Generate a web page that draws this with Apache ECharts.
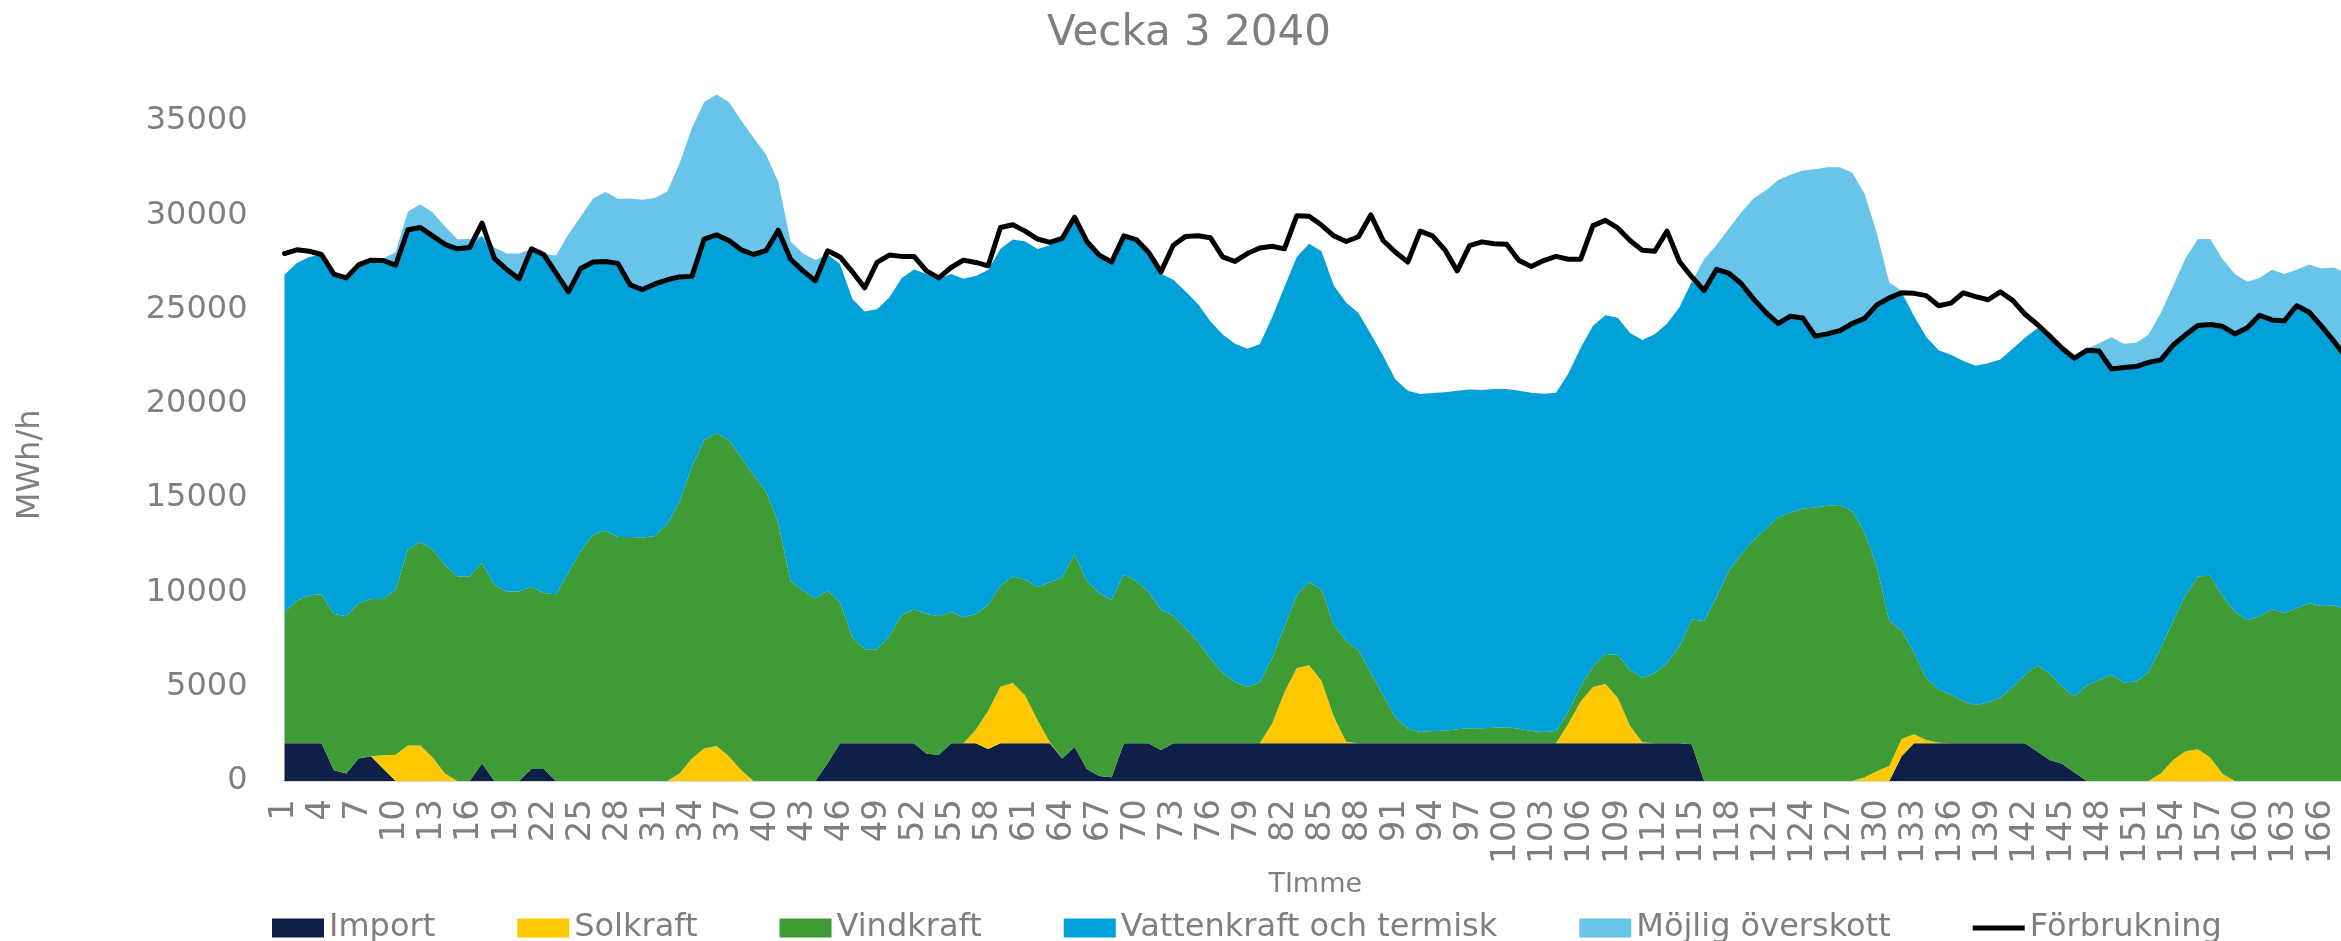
<!DOCTYPE html>
<html>
<head>
<meta charset="utf-8">
<title>Vecka 3 2040</title>
<script src="https://cdn.jsdelivr.net/npm/echarts@6.0.0/dist/echarts.min.js"></script>
<style>
    html, body { margin: 0; padding: 0; background: #fff; }
    #chart { width: 2341px; height: 941px; }
</style>
</head>
<body>
<div id="chart"></div>
<script>
    // timme 1..168 (vecka 3)
    var hours = [];
    for (let h = 1; h <= 168; h++) {
        hours.push(String(h));
    }

    // MWh/h per timme
    var importData = [
        2000,2000,2000,2000,570,400,1190,1310,650,0,0,0,0,0,0,0,940,0,0,0,640,640,0,0,
        0,0,0,0,0,0,0,0,0,0,0,0,0,0,0,0,0,0,0,0,940,2000,2000,2000,
        2000,2000,2000,2000,1440,1390,2000,2000,2000,1700,2000,2000,2000,2000,2000,1190,1800,640,270,200,2000,2000,2000,1650,
        2000,2000,2000,2000,2000,2000,2000,2000,2000,2000,2000,2000,2000,2000,2000,2000,2000,2000,2000,2000,2000,2000,2000,2000,
        2000,2000,2000,2000,2000,2000,2000,2000,2000,2000,2000,2000,2000,2000,2000,2000,2000,2000,1950,0,0,0,0,0,
        0,0,0,0,0,0,0,0,0,0,0,1310,2000,2000,2000,2000,2000,2000,2000,2000,2000,2000,1560,1110,
        910,450,0,0,0,0,0,0,0,0,0,0,0,0,0,0,0,0,0,0,0,0,0,0
    ];
    var solData = [
        0,0,0,0,0,0,0,0,710,1390,1880,1880,1240,400,0,0,0,0,0,0,0,0,0,0,
        0,0,0,0,0,0,0,0,400,1190,1730,1860,1310,570,0,0,0,0,0,0,0,0,0,0,
        0,0,0,0,0,0,0,0,720,2010,3000,3200,2530,1220,50,0,0,0,0,0,0,0,0,0,
        0,0,0,0,0,0,0,0,1040,2700,3990,4140,3320,1420,80,0,0,0,0,0,0,0,0,0,
        0,0,0,0,0,0,0,0,1040,2210,2980,3150,2410,920,50,0,0,0,0,0,0,0,0,0,
        0,0,0,0,0,0,0,0,200,520,790,920,480,180,30,0,0,0,0,0,0,0,0,0,
        0,0,0,0,0,0,0,0,400,1110,1580,1680,1240,370,0,0,0,0,0,0,0,0,0,0
    ];
    var vindData = [
        6980,7550,7850,7900,8290,8340,8240,8340,8290,8760,10400,10790,11040,11060,10840,10840,10640,10400,10050,10050,9660,9330,9900,11050,
        12200,13070,13270,12940,12940,12900,12990,13610,14400,15470,16360,16580,16760,16580,16210,15350,13690,10590,10100,9680,9160,7480,5620,4990,
        4980,5670,6810,7110,7430,7350,6960,6690,6140,5620,5350,5640,6160,7050,8490,9600,10230,9950,9680,9400,8960,8590,8020,7430,
        6760,6090,5400,4490,3740,3250,2980,3220,3470,3470,3860,4410,4830,4880,5350,4930,3740,2530,1370,770,600,650,670,750,
        800,800,820,850,770,650,600,650,620,820,1090,1580,2280,2970,3420,3720,4260,5130,6610,8490,9730,11140,12030,12750,
        13370,13980,14230,14450,14500,14600,14630,14310,12990,10820,7700,5770,4330,3270,2820,2580,2230,2030,2160,2410,2980,3640,4580,4580,
        4090,4030,5070,5350,5640,5220,5270,5770,6680,7380,8270,9160,9650,9430,8980,8540,8740,9110,8910,9160,9430,9280,9310,9110
    ];
    var vattenData = [
        17870,17920,17940,18020,18020,17940,17940,17970,17940,17200,16950,16680,16630,17000,17370,17450,17320,17320,17080,16580,17920,17940,17030,14890,
        14970,14450,14280,14500,13370,13170,13370,12970,11930,10100,10640,10520,10590,11010,11710,12770,15520,17080,16950,16860,17820,17940,17940,17910,
        18040,17970,17870,18020,18020,17890,17920,17940,17920,17770,17870,17870,17920,17940,17870,17940,17750,18020,17940,17920,17940,18120,18020,17820,
        17820,17870,17900,17890,17940,17940,17940,17940,18070,18020,17940,17940,17940,17970,17940,17890,17970,18020,17920,17920,17920,17920,17940,17940,
        17960,17940,17970,17940,17920,17940,17940,17940,17940,17940,18070,17970,17870,17870,17920,17970,17990,17990,17920,17520,17400,15790,14360,12820,
        11490,10270,10420,10100,9080,9110,9260,9950,11340,13910,17130,17900,17850,18090,17990,18020,18040,17990,17990,17940,17940,17870,17870,17890,
        17950,17940,17770,17450,16210,16710,16710,16430,15250,14630,13810,13320,13320,14310,14730,15490,15960,15350,15490,16040,15440,14850,14030,13370
    ];
    var overskottData = [
        0,0,0,0,0,0,0,0,120,690,970,1240,1240,940,520,450,0,570,840,1340,0,50,940,3060,
        2770,3370,3690,3440,4580,4750,4550,4680,6010,7850,7280,7450,7350,6860,6190,5120,2550,940,920,1090,0,0,0,0,
        0,0,0,0,0,0,0,0,0,0,0,0,0,0,0,0,0,0,0,0,0,0,0,0,
        0,0,0,0,0,0,0,0,0,0,0,0,0,0,0,0,0,0,0,0,0,0,0,0,
        0,0,0,0,0,0,0,0,0,0,0,0,0,0,0,0,0,0,0,1660,1290,2350,3760,5320,
        6450,7620,7500,7820,8860,8840,8660,7990,6610,3790,820,100,0,0,0,0,0,0,0,0,0,0,0,0,
        0,0,80,420,1680,1260,1260,1460,2500,3140,4060,4580,4530,3560,3170,2450,1980,2650,2480,1910,2520,3050,3890,4460
    ];
    var forbrukningData = [
        27970,28170,28090,27920,26880,26680,27370,27620,27600,27350,29230,29350,28910,28460,28220,28290,29580,27720,27130,26630,28220,27920,26930,25940,
        27180,27520,27550,27450,26310,26060,26360,26580,26730,26760,28740,28960,28660,28170,27920,28120,29210,27670,27050,26530,28120,27790,27000,26150,
        27500,27890,27820,27820,27050,26680,27230,27620,27500,27320,29350,29500,29160,28740,28560,28780,29900,28610,27890,27520,28910,28710,28040,27000,
        28410,28880,28910,28810,27790,27550,27970,28260,28360,28220,29970,29950,29480,28910,28610,28860,30020,28660,28040,27520,29160,28910,28170,27050,
        28390,28590,28490,28460,27600,27280,27600,27820,27670,27670,29450,29730,29330,28660,28140,28090,29160,27550,26730,26010,27130,26930,26380,25570,
        24850,24260,24650,24550,23590,23710,23880,24260,24530,25250,25620,25890,25860,25740,25200,25340,25890,25690,25520,25940,25490,24750,24210,23590,
        22950,22420,22840,22800,21850,21930,21980,22200,22330,23120,23660,24160,24210,24110,23710,24030,24700,24450,24400,25200,24870,24130,23340,22470
    ];

    var FONT = 'DejaVu Sans';
    var GRAY = '#7f7f7f';

    // staplad yta
    function areaSerie(name, data, color) {
        return {
            name: name,
            type: 'line',
            stack: 'total',
            data: data,
            color: color,
            symbol: 'none',
            showSymbol: false,
            lineStyle: { width: 0 },
            itemStyle: { color: color },
            areaStyle: { color: color, opacity: 1 },
            emphasis: { disabled: true },
            z: 2
        };
    }

    var chart = echarts.init(document.getElementById('chart'));
    chart.setOption({
        animation: false,
        backgroundColor: '#fff',
        title: {
            text: 'Vecka 3 2040',
            left: 1042,
            top: 8,
            textStyle: { fontFamily: FONT, fontSize: 42, fontWeight: 'normal', color: GRAY }
        },
        legend: {
            left: 267,
            top: 907,
            itemWidth: 52,
            itemHeight: 19,
            itemGap: 82,
            icon: 'rect',
            textStyle: { fontFamily: FONT, fontSize: 32, color: GRAY },
            data: ['Import', 'Solkraft', 'Vindkraft', 'Vattenkraft och termisk', 'Möjlig överskott',
                { name: 'Förbrukning', icon: 'path://M0,0M0,19M0,7L52,7L52,12L0,12Z' }]
        },
        // plotytan går lite förbi 35000 och förbi högra kanten
        grid: { left: 284.5, right: -5, top: 92.7, bottom: 160, containLabel: false, outerBoundsMode: 'none' },
        xAxis: {
            type: 'category',
            data: hours,
            boundaryGap: false,
            name: 'TImme',
            nameLocation: 'middle',
            nameGap: 88,
            nameTextStyle: { fontFamily: FONT, fontSize: 27, color: GRAY },
            axisLabel: { interval: 2, rotate: 90, margin: 18, fontFamily: FONT, fontSize: 34, color: GRAY },
            axisTick: { show: false },
            axisLine: { lineStyle: { color: '#d9d9d9', width: 2 } },
            splitLine: { show: false }
        },
        yAxis: {
            type: 'value',
            min: 0,
            max: 36500,
            interval: 5000,
            name: 'MWh/h',
            nameLocation: 'middle',
            nameRotate: 90,
            nameGap: 238,
            nameTextStyle: { fontFamily: FONT, fontSize: 32, color: GRAY, padding: [0, 56, 0, 0] },
            axisLabel: {
                margin: 37, fontFamily: FONT, fontSize: 32, color: GRAY,
                formatter: function (v) { return v % 5000 === 0 ? String(v) : ''; }
            },
            axisLine: { show: false },
            axisTick: { show: false },
            splitLine: { show: false }
        },
        series: [
            areaSerie('Import', importData, '#0f2048'),
            areaSerie('Solkraft', solData, '#ffc800'),
            areaSerie('Vindkraft', vindData, '#3f9b35'),
            areaSerie('Vattenkraft och termisk', vattenData, '#00a0d9'),
            areaSerie('Möjlig överskott', overskottData, '#68c4e8'),
            {
                name: 'Förbrukning',
                type: 'line',
                data: forbrukningData,
                color: '#000',
                symbol: 'none',
                showSymbol: false,
                lineStyle: { color: '#000', width: 5, cap: 'round', join: 'round' },
                itemStyle: { color: '#000' },
                emphasis: { disabled: true },
                z: 5
            }
        ]
    });
</script>
</body>
</html>
